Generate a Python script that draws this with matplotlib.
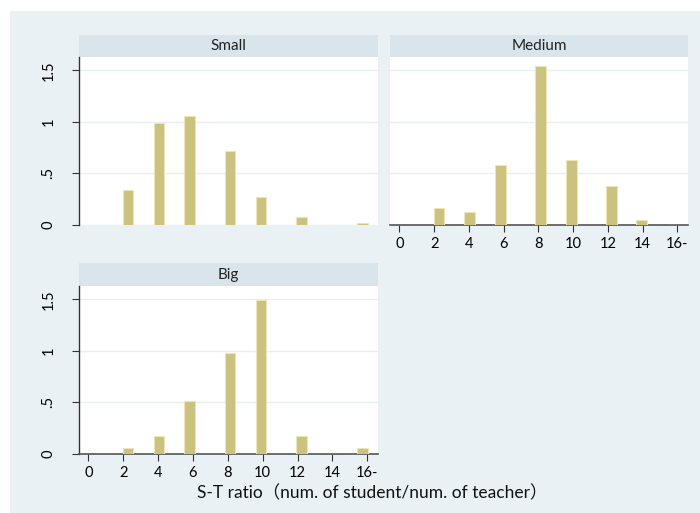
import matplotlib.pyplot as plt
from matplotlib.patches import Rectangle

plt.rcParams['font.family'] = ['Lato', 'Noto Sans CJK SC', 'DejaVu Sans']

# Histogram bins (S-T ratio) and densities by school size
groups = ['Small', 'Medium', 'Big']
bin_centers = [2.28, 4.05, 5.81, 8.13, 9.90, 12.23, 13.95, 15.74]
density_small = [0.336, 0.985, 1.053, 0.719, 0.265, 0.071, 0.0, 0.016]
density_medium = [0.165, 0.122, 0.583, 1.538, 0.625, 0.375, 0.042, 0.0]
density_big = [0.055, 0.172, 0.513, 0.974, 1.494, 0.172, 0.0, 0.055]
x_ticks = [0, 2, 4, 6, 8, 10, 12, 14, 16]
x_ticklabels = ['0', '2', '4', '6', '8', '10', '12', '14', '16-']
y_ticks = [0, 0.5, 1, 1.5]
y_ticklabels = ['0', '.5', '1', '1.5']

W, H = 700, 513
BG = '#EAF1F4'
STRIP = '#D9E5EB'
BAR = '#CBC27F'
BAR_EDGE = '#ECE6B6'
AXIS = '#333333'


def box(x0, y0, x1, y1):
    # pixel box (top-left origin) -> figure fraction rect
    return [x0 / W, (H - y1) / H, (x1 - x0) / W, (y1 - y0) / H]


fig = plt.figure(figsize=(W / 100, H / 100), dpi=100, facecolor='white')
fig.patches.append(Rectangle((10 / W, 0), 1, (H - 11) / H, transform=fig.transFigure,
                             facecolor=BG, edgecolor='none', zorder=-10))

panels = {
    'Small': dict(plot=(79, 57, 378, 224.5), strip=(79, 35, 378, 57),
                  data=density_small, show_x=False, show_y=True),
    'Medium': dict(plot=(390, 57, 688, 224.5), strip=(390, 35, 688, 57),
                   data=density_medium, show_x=True, show_y=False),
    'Big': dict(plot=(79, 286, 378, 453.5), strip=(79, 263, 378, 286),
                data=density_big, show_x=True, show_y=True),
}

for name in groups:
    p = panels[name]

    # title strip
    sx = fig.add_axes(box(*p['strip']))
    sx.set_facecolor(STRIP)
    sx.set_xticks([])
    sx.set_yticks([])
    for s in sx.spines.values():
        s.set_visible(False)
    sx.text(0.5, 0.5, name, ha='center', va='center', fontsize=11, color='#222222',
            transform=sx.transAxes)

    ax = fig.add_axes(box(*p['plot']))
    ax.set_facecolor('white')
    ax.bar(bin_centers, p['data'], width=0.61, color=BAR, edgecolor=BAR_EDGE,
           linewidth=0.8, zorder=3)
    ax.set_xlim(-0.54, 16.62)
    ax.set_ylim(0, 1.63)
    ax.set_yticks(y_ticks)
    for yv in y_ticks:
        ax.axhline(yv, color='#E8F0F2', linewidth=1.0, zorder=1)

    for s in ['top', 'right']:
        ax.spines[s].set_visible(False)

    if p['show_y']:
        ax.spines['left'].set_color(AXIS)
        ax.spines['left'].set_linewidth(1.0)
        ax.set_yticklabels(y_ticklabels, rotation=90, va='center', fontsize=10.5)
        ax.tick_params(axis='y', length=5, width=0.8, color=AXIS, pad=12)
    else:
        ax.spines['left'].set_visible(False)
        ax.tick_params(axis='y', length=0, labelleft=False)

    if p['show_x']:
        ax.spines['bottom'].set_color('#555555')
        ax.spines['bottom'].set_linewidth(1.2)
        ax.set_xticks(x_ticks)
        ax.set_xticklabels(x_ticklabels, fontsize=10.5)
        ax.tick_params(axis='x', length=5, width=0.8, color=AXIS, pad=4)
    else:
        ax.spines['bottom'].set_visible(False)
        ax.set_xticks([])

fig.text(372 / W, (H - 493) / H, 'S-T ratio（num. of student/num. of teacher）',
         ha='center', va='center', fontsize=12.5, color='#111111')

fig.savefig('out.png', dpi=100, facecolor='white')
